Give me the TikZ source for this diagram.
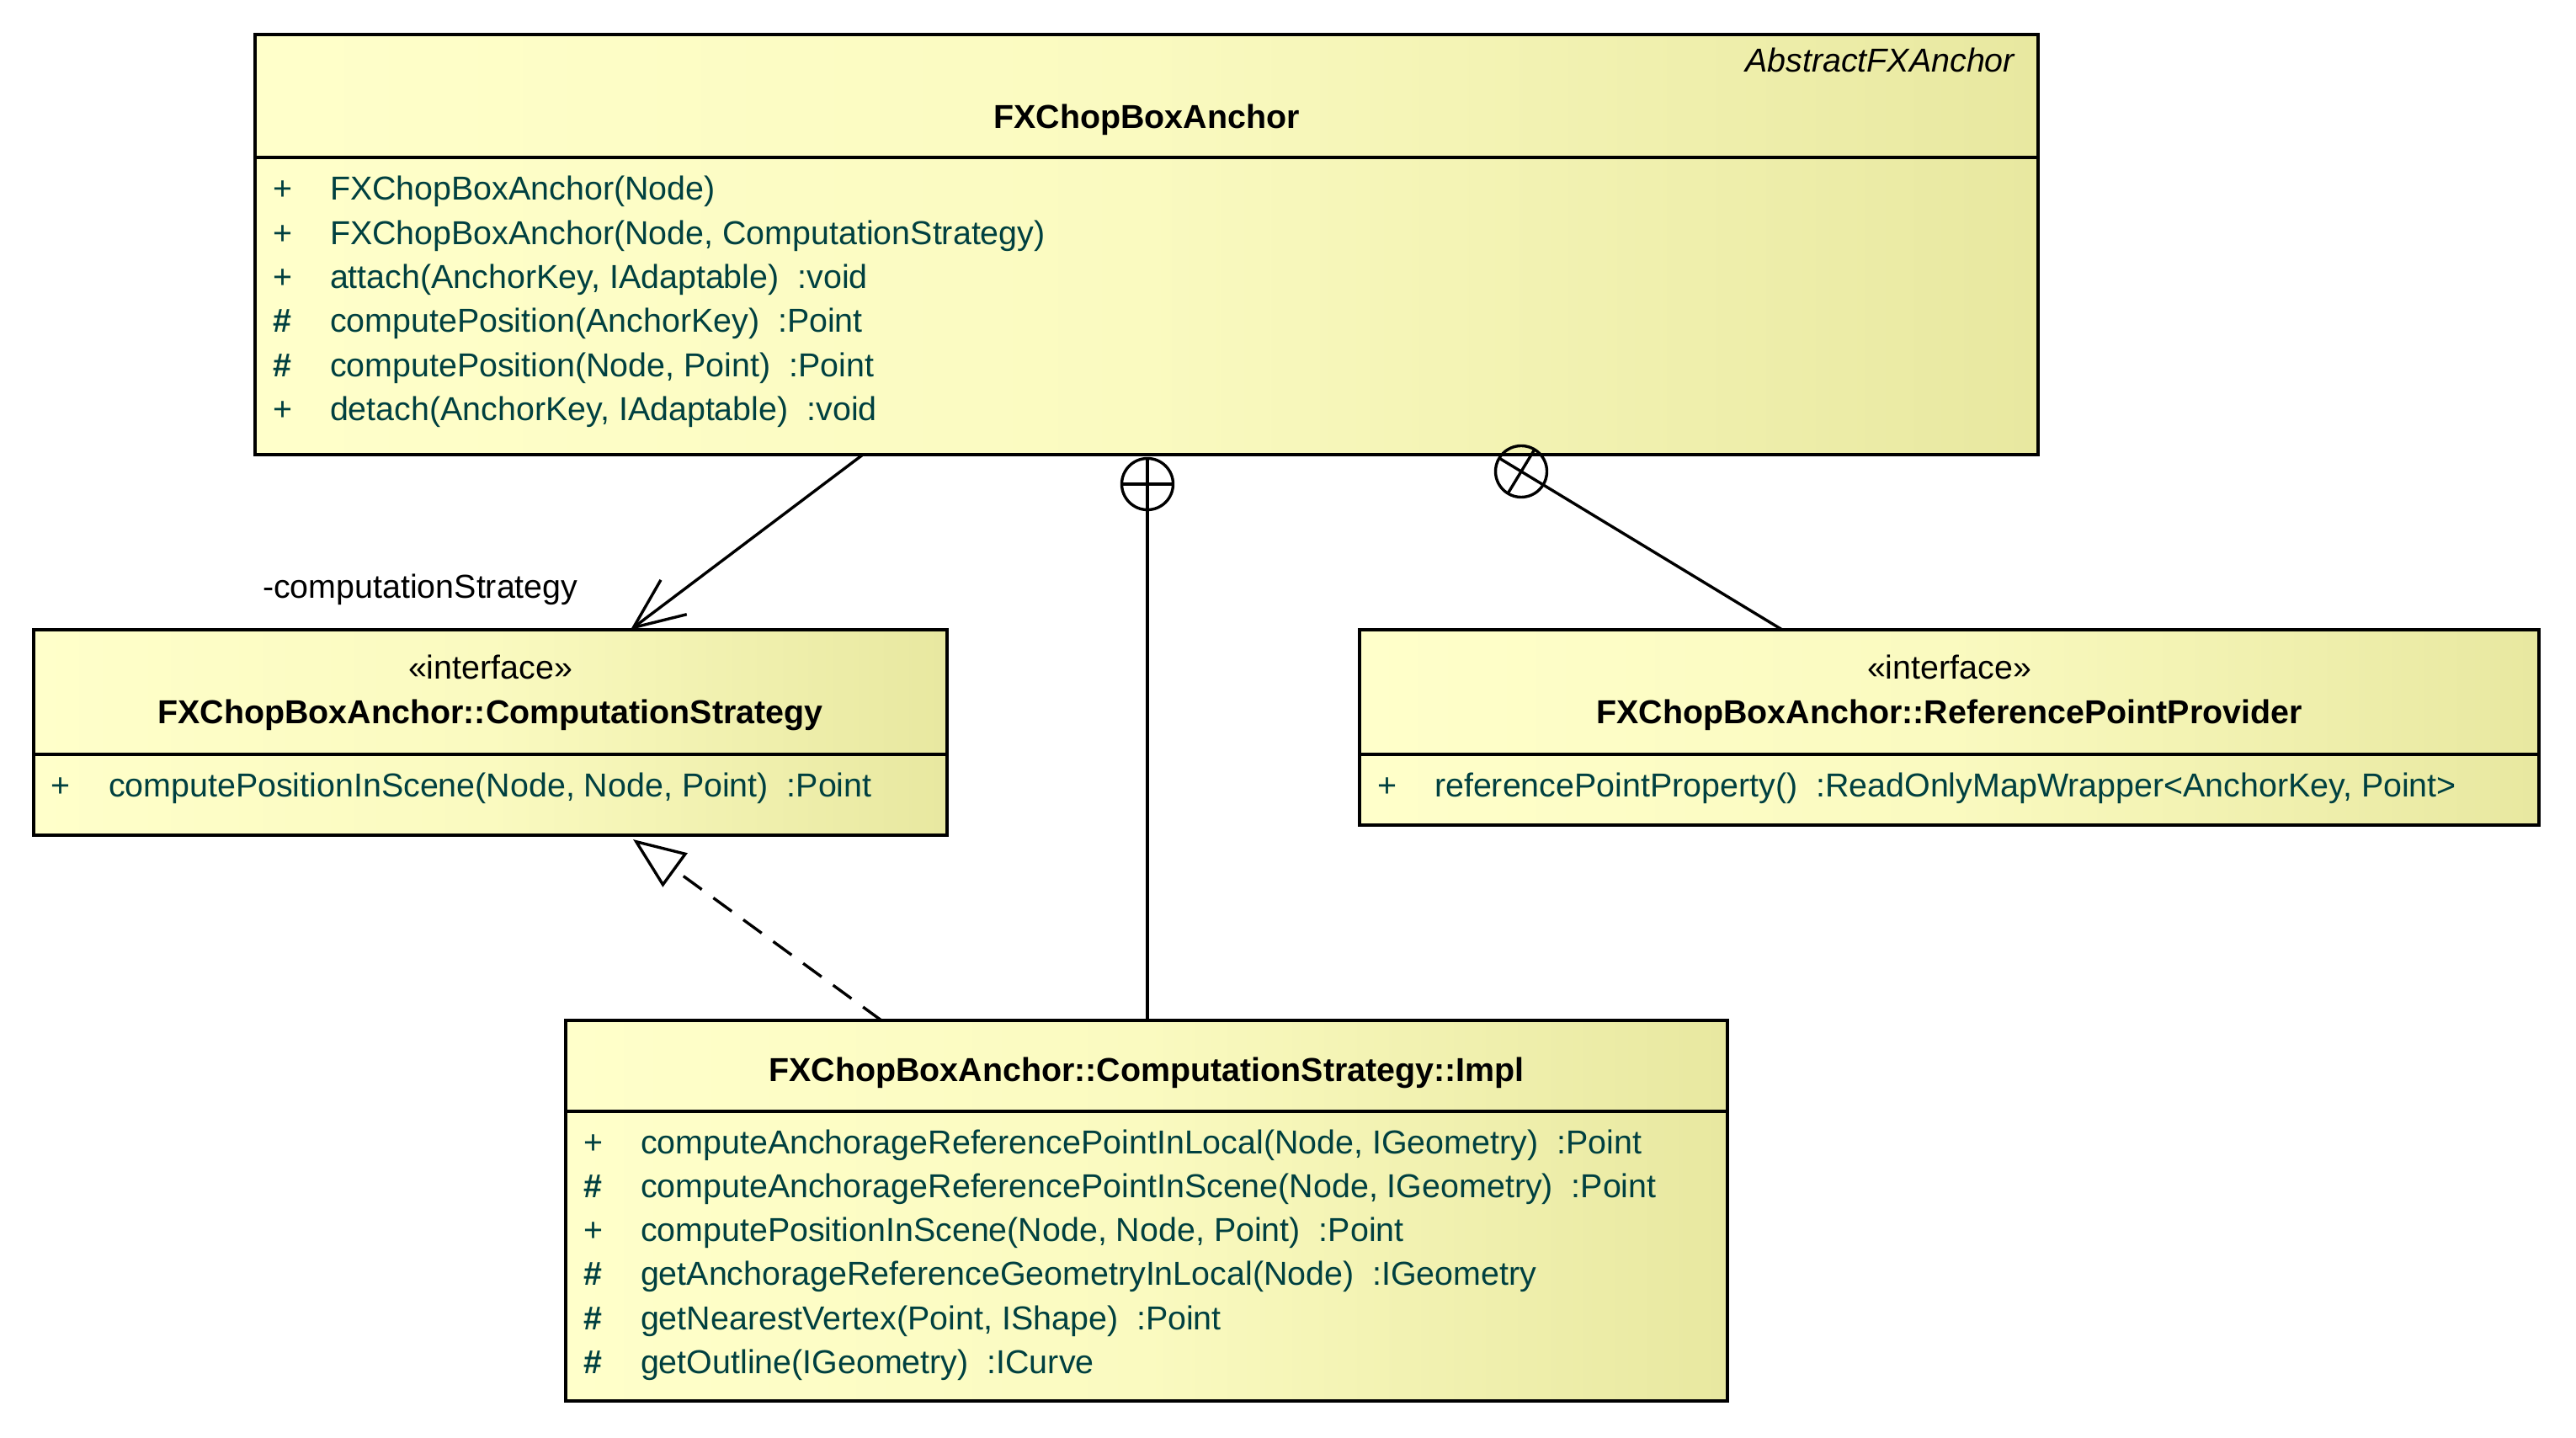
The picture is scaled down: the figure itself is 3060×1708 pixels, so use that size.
\documentclass[tikz,border=0pt]{standalone}
\usepackage{fontspec}
\setmainfont{Liberation Sans}
\usetikzlibrary{arrows.meta,calc,fit}

\definecolor{boxlight}{RGB}{255,255,202}
\definecolor{boxmid}{RGB}{250,250,192}
\definecolor{boxdark}{RGB}{232,232,160}
\definecolor{membertext}{RGB}{0,64,64}
\newcommand\umlfont{\fontsize{9.85pt}{12pt}\selectfont}
\newcommand\prot{\textbf{\#}}

% one operation row: visibility mark and signature, both on the same baseline
\newcommand\umlmember[6]{%
  \node[member, anchor=base west] (#1v) at (#3,#2) {#5};
  \node[member, anchor=base west] (#1t) at (#4,#2) {#6};}

\begin{document}
\begin{tikzpicture}[x=0.25pt, y=-0.25pt,
  classbox/.style={draw=black, line width=1pt, inner sep=0pt, outer sep=0pt,
    left color=boxlight, right color=boxdark, middle color=boxmid},
  divider/.style={draw=black, line width=1pt},
  txt/.style={inner sep=0pt, outer sep=0pt, font=\umlfont, text=black},
  member/.style={txt, text=membertext},
  classname/.style={txt, font=\umlfont\bfseries},
  conn/.style={draw=black, line width=0.85pt},
  assoc/.style={conn, -{Straight Barb[length=15pt, width=12.8pt]}},
  realize/.style={conn, dash pattern=on 6.75pt off 4.25pt,
    -{Triangle[open, length=15.5pt, width=12.3pt]}},
  nestring/.style={circle, draw=black, line width=0.85pt, minimum size=15.25pt,
    inner sep=0pt, outer sep=0pt}]

\fill[white] (0,0) rectangle (3060,1708);
\useasboundingbox (0,0) rectangle (3060,1708);

% ---------- class boxes ----------
\node[classbox, fit={(303,41) (2421,540)}] (fxa) {};
\node[classbox, fit={(40,748) (1125,992)}] (cs) {};
\node[classbox, fit={(1615,748) (3016,980)}] (rpp) {};
\node[classbox, fit={(672,1212) (2052,1664)}] (impl) {};

\draw[divider] (303,187) -- (2421,187);
\draw[divider] (40,896) -- (1125,896);
\draw[divider] (1615,896) -- (3016,896);
\draw[divider] (672,1320) -- (2052,1320);

% ---------- FXChopBoxAnchor ----------
\node[txt, font=\umlfont\itshape, anchor=base east] (fxaparent) at (2393,86) {AbstractFXAnchor};
\node[classname, anchor=base] (fxaname) at (1362,153) {FXChopBoxAnchor};
\umlmember{fa1}{238}{324}{392}{+}{FXChopBoxAnchor(Node)}
\umlmember{fa2}{290.3}{324}{392}{+}{FXChopBoxAnchor(Node, ComputationStrategy)}
\umlmember{fa3}{342.6}{324}{392}{+}{attach(AnchorKey, IAdaptable)\ \ :void}
\umlmember{fa4}{394.9}{324}{392}{\prot}{computePosition(AnchorKey)\ \ :Point}
\umlmember{fa5}{447.2}{324}{392}{\prot}{computePosition(Node, Point)\ \ :Point}
\umlmember{fa6}{499.5}{324}{392}{+}{detach(AnchorKey, IAdaptable)\ \ :void}

% ---------- ComputationStrategy ----------
\node[txt, anchor=base] (csster) at (582.5,807) {«interface»};
\node[classname, anchor=base] (csname) at (582.5,860) {FXChopBoxAnchor::ComputationStrategy};
\umlmember{cs1}{947}{60}{129}{+}{computePositionInScene(Node, Node, Point)\ \ :Point}

% ---------- ReferencePointProvider ----------
\node[txt, anchor=base] (rpster) at (2315.5,807) {«interface»};
\node[classname, anchor=base] (rpname) at (2315.5,860) {FXChopBoxAnchor::ReferencePointProvider};
\umlmember{rp1}{947}{1636}{1704}{+}{referencePointProperty()\ \ :ReadOnlyMapWrapper<AnchorKey, Point>}

% ---------- ComputationStrategy::Impl ----------
\node[classname, anchor=base] (implname) at (1362,1284) {FXChopBoxAnchor::ComputationStrategy::Impl};
\umlmember{im1}{1370}{693}{761}{+}{computeAnchorageReferencePointInLocal(Node, IGeometry)\ \ :Point}
\umlmember{im2}{1422.3}{693}{761}{\prot}{computeAnchorageReferencePointInScene(Node, IGeometry)\ \ :Point}
\umlmember{im3}{1474.6}{693}{761}{+}{computePositionInScene(Node, Node, Point)\ \ :Point}
\umlmember{im4}{1526.9}{693}{761}{\prot}{getAnchorageReferenceGeometryInLocal(Node)\ \ :IGeometry}
\umlmember{im5}{1579.2}{693}{761}{\prot}{getNearestVertex(Point, IShape)\ \ :Point}
\umlmember{im6}{1631.5}{693}{761}{\prot}{getOutline(IGeometry)\ \ :ICurve}

% ---------- association with role name ----------
\coordinate (assocFrom) at (1025,0);
\coordinate (assocTo) at (749,0);
\draw[assoc] (fxa.south -| assocFrom) -- (cs.north -| assocTo);
\node[txt, anchor=base west] (rolename) at (312,711) {-computationStrategy};

% ---------- realization ----------
\coordinate (realFrom) at (1047,0);
\coordinate (realTip) at (752,997);
\draw[realize] (impl.north -| realFrom) -- (realTip);

% ---------- nesting of Impl ----------
\node[nestring] (nest1) at (1363,575) {};
\draw[conn] (impl.north -| nest1) -- (nest1.north);
\draw[conn] (nest1.west) -- (nest1.east);

% ---------- nesting of ReferencePointProvider ----------
\node[nestring] (nest2) at (1807,560) {};
\coordinate (rpX) at (2117,0);
\coordinate (rpEnd) at (rpp.north -| rpX);
\draw[conn] (rpEnd) -- ($(nest2.center)!-7.62pt!(rpEnd)$);
\draw[conn] ($(nest2.center)!7.62pt!90:(rpEnd)$) -- ($(nest2.center)!7.62pt!-90:(rpEnd)$);

\end{tikzpicture}
\end{document}
